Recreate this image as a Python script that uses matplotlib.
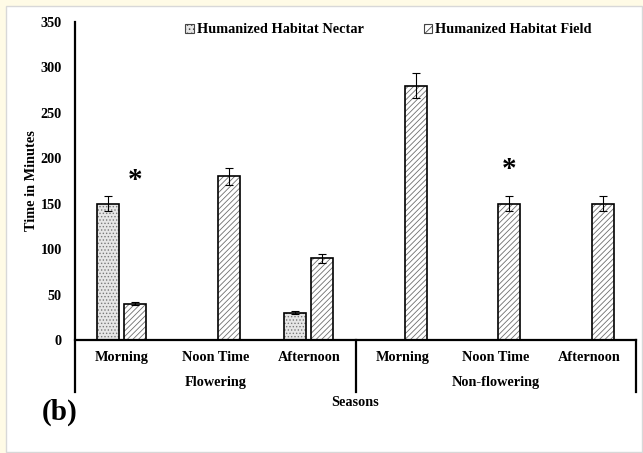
# Humanized habitat - time spent per period, flowering vs non-flowering season

import numpy as np
import matplotlib.pyplot as plt
from matplotlib.patches import Patch, Rectangle

plt.rcParams['font.family'] = ['Liberation Serif', 'DejaVu Serif']
plt.rcParams['font.weight'] = 'bold'
plt.rcParams['hatch.linewidth'] = 0.6

periods = ['Morning', 'Noon Time', 'Afternoon', 'Morning', 'Noon Time', 'Afternoon']
seasons = ['Flowering', 'Non-flowering']
nectar = [150, 0, 30, 0, 0, 0]
nectar_err = [8, 0, 1.5, 0, 0, 0]
field = [40, 180, 90, 280, 150, 150]
field_err = [2, 9, 5, 14, 8, 8]
star_idx = [0, 4]
star_y = [175, 188]

fig = plt.figure(figsize=(6.43, 4.53), dpi=100, facecolor='#fffbe6')
# white panel with light border
fig.patches.append(Rectangle((6/643, 1/453), 636/643, 446/453, transform=fig.transFigure,
                             facecolor='white', edgecolor='#d8d8d8', linewidth=1.0, zorder=-5))
ax = fig.add_axes([75/643, 113/453, 561/643, 318/453])
ax.set_facecolor('none')

x = np.arange(len(periods))
w = 0.235
off = 0.145
nx = np.array([xi - off for xi, v in zip(x, nectar) if v > 0])
nv = [v for v in nectar if v > 0]
ne = [e for v, e in zip(nectar, nectar_err) if v > 0]

# hatch layers
ax.bar(nx, nv, w, color='#e6e6e6', edgecolor='#7a7a7a', linewidth=0, hatch='.....')
ax.bar(x + off, field, w, color='white', edgecolor='#6e6e6e', linewidth=0, hatch='//////')
# outlines
ax.bar(nx, nv, w, fill=False, edgecolor='black', linewidth=1.2)
ax.bar(x + off, field, w, fill=False, edgecolor='black', linewidth=1.2)

ax.errorbar(nx, nv, yerr=ne, fmt='none', ecolor='black', elinewidth=0.8, capsize=3, capthick=0.8)
ax.errorbar(x + off, field, yerr=field_err, fmt='none', ecolor='black', elinewidth=0.8,
            capsize=3, capthick=0.8)

for i, yv in zip(star_idx, star_y):
    ax.text(i + off, yv, '*', ha='center', va='center', fontsize=21, fontweight='bold')

ax.set_xlim(-0.5, 5.5)
ax.set_ylim(0, 350)
ax.set_yticks(range(0, 351, 50))
ax.tick_params(axis='y', length=0, pad=9.5, labelsize=10.3)
ax.set_xticks([])
for s in ['top', 'right', 'left']:
    ax.spines[s].set_visible(False)
ax.spines['bottom'].set_linewidth(1.6)

# axis line and group separators below the plot
ax.plot([-0.5, -0.5], [-57, 350], color='black', lw=1.6, clip_on=False)
for xs in [2.5, 5.5]:
    ax.plot([xs, xs], [-57, 0], color='black', lw=1.6, clip_on=False)

for xi, lab in zip(x, periods):
    ax.text(xi, -19, lab, ha='center', va='center', fontsize=10.3, fontweight='bold')
for k, lab in enumerate(seasons):
    ax.text(3 * k + 1, -47, lab, ha='center', va='center', fontsize=10.3, fontweight='bold')
ax.text(2.5, -69, 'Seasons', ha='center', va='center', fontsize=10.3, fontweight='bold')

ax.set_ylabel('Time in Minutes', fontsize=10.3, fontweight='bold')
ax.yaxis.set_label_coords(-0.066, 0.5)

handles = [Patch(facecolor='#e6e6e6', edgecolor='#444444', hatch='....', lw=0.8),
           Patch(facecolor='white', edgecolor='#444444', hatch='////', lw=0.8)]
ax.legend(handles, ['Humanized Habitat Nectar', 'Humanized Habitat Field'], ncol=2,
          loc='center', bbox_to_anchor=(0.559, 0.975), frameon=False,
          prop={'family': 'Liberation Serif', 'weight': 'bold', 'size': 10.3},
          handlelength=0.6, handleheight=0.6, handletextpad=0.2, columnspacing=4.2)

fig.text(60/643, 1 - 412/453, '(b)', ha='center', va='center', fontsize=21, fontweight='bold')

fig.savefig('out.png', dpi=100, facecolor=fig.get_facecolor())
